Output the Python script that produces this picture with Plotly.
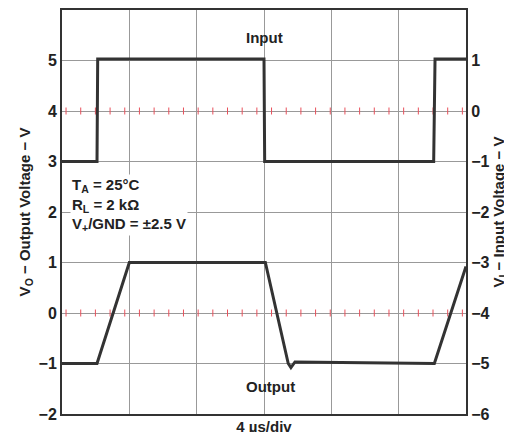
import numpy as np
import plotly.graph_objects as go

# time in divisions (4 us/div), voltages
input_t = [0, 0.52, 0.53, 3.0, 3.01, 5.52, 5.54, 6.0]
input_v = [3.0, 3.0, 5.03, 5.03, 3.0, 3.0, 5.03, 5.03]

output_t = [0, 0.52, 1.0, 3.02, 3.36, 3.4, 3.46, 5.53, 6.0]
output_v = [-1.0, -1.0, 1.0, 1.0, -1.0, -1.08, -0.97, -1.0, 0.92]

left_ticks = [-2, -1, 0, 1, 2, 3, 4, 5, 6]
right_ticks = [-6, -5, -4, -3, -2, -1, 0, 1, 2]

font = "Liberation Sans, Arial, sans-serif"
fig = go.Figure()

# red reference ticks at the two zero levels
marks = np.arange(0.06, 5.95, 0.218)
for lvl in [4, 0]:
    fig.add_trace(go.Scatter(x=marks, y=[lvl] * len(marks), mode="markers",
                             marker=dict(symbol="line-ns", size=5, color="#e8505b",
                                         line=dict(width=1, color="#e8505b")),
                             showlegend=False, hoverinfo="skip", cliponaxis=False))

fig.add_trace(go.Scatter(x=input_t, y=input_v, mode="lines",
                         line=dict(color="#333333", width=3), showlegend=False))
fig.add_trace(go.Scatter(x=output_t, y=output_v, mode="lines",
                         line=dict(color="#333333", width=3), showlegend=False))
# dummy trace for right axis
fig.add_trace(go.Scatter(x=[0], y=[0], yaxis="y2", mode="markers",
                         marker=dict(opacity=0), showlegend=False, hoverinfo="skip"))

fig.add_annotation(x=3.0, y=5.45, text="<b>Input</b>", showarrow=False,
                   font=dict(size=15, family=font, color="#222"))
fig.add_annotation(x=3.1, y=-1.45, text="<b>Output</b>", showarrow=False,
                   font=dict(size=15, family=font, color="#222"))
fig.add_annotation(x=0.12, y=2.75, xanchor="left", yanchor="top", align="left", showarrow=False,
                   text="<b>T<sub>A</sub> = 25°C<br>R<sub>L</sub> = 2 kΩ<br>V<sub>+</sub>/GND = ±2.5 V</b>",
                   font=dict(size=15, family=font, color="#222"), bgcolor="white")

fig.update_layout(
    width=512, height=432, margin=dict(l=54, r=54, t=2, b=26),
    plot_bgcolor="white", paper_bgcolor="white",
    font=dict(family=font, size=16, color="#222"),
    xaxis=dict(range=[0, 6], tickvals=[0, 1, 2, 3, 4, 5, 6], showticklabels=False,
               showgrid=True, gridcolor="#999", gridwidth=1, zeroline=False, ticklen=0,
               showline=True, linecolor="#333", linewidth=2, mirror=True, automargin=False,
               title=dict(text="<b>4 µs/div</b>", standoff=6, font=dict(size=15))),
    yaxis=dict(range=[-2, 6], tickvals=left_ticks, ticktext=[f"<b>{str(v).replace('-', '−')}</b>" for v in left_ticks],
               showgrid=True, gridcolor="#999", zeroline=False, ticks="", ticklen=0,
               showline=True, linecolor="#333", linewidth=2, automargin=False,
               title=dict(text="<b>V<sub>O</sub> − Output Voltage − V</b>", standoff=4, font=dict(size=15))),
    yaxis2=dict(range=[-6, 2], overlaying="y", side="right", tickvals=right_ticks,
                ticktext=[f"<b>{str(v).replace('-', '−')}</b>" for v in right_ticks],
                showgrid=False, zeroline=False, ticks="", ticklen=0,
                showline=True, linecolor="#333", linewidth=2, automargin=False,
                title=dict(text="<b>V<sub>I</sub> − Input Voltage − V</b>", standoff=4, font=dict(size=15))),
)

fig.write_html("out.html")
